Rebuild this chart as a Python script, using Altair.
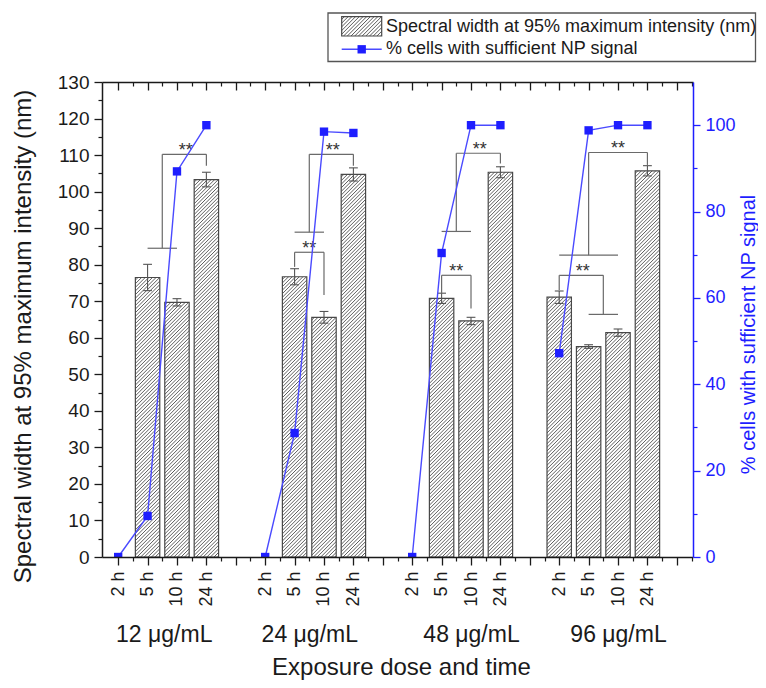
import altair as alt
import pandas as pd

# ---------------- data ----------------
doses = ["12 μg/mL", "24 μg/mL", "48 μg/mL", "96 μg/mL"]
times = ["2 h", "5 h", "10 h", "24 h"]

# spectral width at 95% max intensity (nm), None = no bar
width_12 = [None, 76.5, 69.7, 103.3]
width_24 = [None, 76.7, 65.6, 104.7]
width_48 = [None, 70.8, 64.6, 105.3]
width_96 = [71.1, 57.6, 61.4, 105.7]
err_12 = [None, 3.6, 1.0, 2.0]
err_24 = [None, 2.2, 1.6, 1.8]
err_48 = [None, 1.4, 1.0, 1.5]
err_96 = [1.7, 0.5, 1.0, 1.4]

# % cells with sufficient NP signal
pct_12 = [0, 9.5, 89.3, 100]
pct_24 = [0, 28.7, 98.5, 98.2]
pct_48 = [0, 70.4, 100, 100]
pct_96 = [47.2, 98.8, 100, 100]

# significance brackets (slot units, nm units)
br_x1 = [1, 1.5, 1.5, 3,   6, 6.5, 6.5, 8,   6, 6, 7,
         11, 11.5, 11.5, 13,   11, 11, 12,
         15, 16, 16, 18,   15, 15, 16.5, 16]
br_y1 = [84.5, 84.5, 110.2, 110.2,   88.9, 88.9, 110.2, 110.2,   79.4, 83.4, 83.4,
         89.1, 89.1, 110.5, 110.5,   72.2, 77.1, 77.1,
         82.6, 82.6, 110.7, 110.7,   73.0, 77.1, 77.1, 66.4]
br_x2 = [2, 1.5, 3, 3,   7, 6.5, 8, 8,   6, 7, 7,
         12, 11.5, 13, 13,   11, 12, 12,
         17, 16, 18, 18,   15, 16.5, 16.5, 17]
br_y2 = [84.5, 110.2, 110.2, 107.1,   88.9, 110.2, 110.2, 107.1,   83.4, 83.4, 71.7,
         89.1, 110.5, 110.5, 107.7,   77.1, 77.1, 68.0,
         82.6, 110.7, 110.7, 107.3,   77.1, 77.1, 66.4, 66.4]
star_x = [2.3, 7.3, 6.5, 12.3, 11.5, 17.0, 15.8]
star_y = [112.5, 112.5, 85.7, 112.7, 79.4, 112.9, 79.4]

legend_labels = ["Spectral width at 95% maximum intensity (nm)",
                 "% cells with sufficient NP signal"]
y_title = "Spectral width at 95% maximum intensity (nm)"
y2_title = "% cells with sufficient NP signal"
x_title = "Exposure dose and time"

# ---------------- layout / style ----------------
W, H = 591, 475
XDOM = [-0.55, 19.55]
YMAX, Y2MAX = 130, 110
FONT = "Liberation Sans"
BLACK = "#1a1a1a"
GRAY = "#555555"
BLUE = "#1e1eff"
LINE_BLUE = "#4a4aff"
BAR_HALF = 0.415
CAP = 0.15

XS = alt.Scale(domain=XDOM, nice=False, zero=False)
YS = alt.Scale(domain=[0, YMAX], nice=False)
Y2S = alt.Scale(domain=[0, Y2MAX], nice=False)

widths = [width_12, width_24, width_48, width_96]
errs = [err_12, err_24, err_48, err_96]
pcts = [pct_12, pct_24, pct_48, pct_96]

bar_rows, line_rows = [], []
for g, dose in enumerate(doses):
    for t, tm in enumerate(times):
        slot = g * 5 + t
        if widths[g][t] is not None:
            bar_rows.append({"slot": slot, "value": widths[g][t], "err": errs[g][t]})
        line_rows.append({"slot": slot, "pct": pcts[g][t], "dose": dose})
bars_df = pd.DataFrame(bar_rows)
bars_df["xl"] = bars_df["slot"] - BAR_HALF
bars_df["xr"] = bars_df["slot"] + BAR_HALF
bars_df["zero"] = 0.0
bars_df["lo"] = bars_df["value"] - bars_df["err"]
bars_df["hi"] = bars_df["value"] + bars_df["err"]
bars_df["cl"] = bars_df["slot"] - CAP
bars_df["cr"] = bars_df["slot"] + CAP
line_df = pd.DataFrame(line_rows)
br_df = pd.DataFrame({"x1": br_x1, "y1": br_y1, "x2": br_x2, "y2": br_y2})
star_df = pd.DataFrame({"x": star_x, "y": star_y, "t": ["**"] * len(star_x)})

PX_PER_SLOT = W / (XDOM[1] - XDOM[0])
PX_PER_NM = H / YMAX


def hatch(w, h, period=3.6, light_c="#ffffff", dark_c="#5c5c5c"):
    """Soft diagonal '/' stripes as an SVG bounding-box gradient."""
    n = max(1, int(round((w + h) / period)))
    k = (w + h) / (w * w + h * h)
    stops = []
    for i in range(n):
        stops += [{"offset": round(i / n, 6), "color": light_c},
                  {"offset": round((i + 0.45) / n, 6), "color": light_c},
                  {"offset": round((i + 0.72) / n, 6), "color": dark_c},
                  {"offset": round((i + 1) / n, 6), "color": light_c}]
    return {"gradient": "linear", "x1": 0, "y1": 0,
            "x2": round(k * w, 6), "y2": round(k * h, 6), "stops": stops}


# ---------------- bars (one layer per bar for its hatch) ----------------
bar_layers = []
bw = 2 * BAR_HALF * PX_PER_SLOT
for _, r in bars_df.iterrows():
    bh = r["value"] * PX_PER_NM
    bar_layers.append(
        alt.Chart(bars_df).transform_filter(alt.datum.slot == int(r["slot"]))
        .mark_rect(fill=hatch(bw, bh), stroke="#484848", strokeWidth=1.2)
        .encode(x=alt.X("xl:Q", scale=XS, axis=None), x2="xr:Q",
                y=alt.Y("value:Q", scale=YS, axis=None), y2="zero:Q")
    )

err_v = alt.Chart(bars_df).mark_rule(color=GRAY, strokeWidth=1.1).encode(
    x=alt.X("slot:Q", scale=XS, axis=None),
    y=alt.Y("lo:Q", scale=YS, axis=None), y2="hi:Q")
err_top = alt.Chart(bars_df).mark_rule(color=GRAY, strokeWidth=1.1).encode(
    x=alt.X("cl:Q", scale=XS, axis=None), x2="cr:Q",
    y=alt.Y("hi:Q", scale=YS, axis=None))
err_bot = alt.Chart(bars_df).mark_rule(color=GRAY, strokeWidth=1.1).encode(
    x=alt.X("cl:Q", scale=XS, axis=None), x2="cr:Q",
    y=alt.Y("lo:Q", scale=YS, axis=None))

brackets = alt.Chart(br_df).mark_rule(color="#6a6a6a", strokeWidth=1.2).encode(
    x=alt.X("x1:Q", scale=XS, axis=None), x2="x2:Q",
    y=alt.Y("y1:Q", scale=YS, axis=None), y2="y2:Q")

stars = alt.Chart(star_df).mark_text(font=FONT, fontSize=18, color="#333333",
                                     baseline="alphabetic", align="center", dy=10).encode(
    x=alt.X("x:Q", scale=XS, axis=None), y=alt.Y("y:Q", scale=YS, axis=None), text="t:N")

# ---------------- axis carriers (left scale) ----------------
carrier = pd.DataFrame({"x": [0.0], "y": [0.0]})


def xcar(axis):
    return alt.Chart(carrier).mark_point(opacity=0).encode(
        x=alt.X("x:Q", scale=XS, axis=axis), y=alt.Y("y:Q", scale=YS, axis=None))


def ycar(axis):
    return alt.Chart(carrier).mark_point(opacity=0).encode(
        x=alt.X("x:Q", scale=XS, axis=None), y=alt.Y("y:Q", scale=YS, axis=axis))


label_list = "[" + ",".join("'%s'" % t for t in times) + ",'']"
ax_bottom = alt.Axis(orient="bottom", values=list(range(20)), tickSize=8, tickWidth=1.3,
                     tickColor=BLACK, domain=True, domainColor=BLACK, domainWidth=1.5,
                     labelExpr=label_list + "[datum.value % 5]", labelAngle=270,
                     labelAlign="right", labelBaseline="middle", labelFontSize=18,
                     labelPadding=6, labelColor=BLACK, labelOverlap=False,
                     labelFlush=False, grid=False, title=None, zindex=1)
ax_bottom_minor = alt.Axis(orient="bottom", values=[i + 0.5 for i in range(20)],
                           tickSize=4, tickWidth=1.2, tickColor=BLACK, domain=False,
                           labels=False, grid=False, title=None, zindex=1)
dose_expr = ("datum.value < 4 ? '%s' : datum.value < 9 ? '%s' : datum.value < 14 ? '%s' : '%s'"
             % tuple(doses))
ax_dose = alt.Axis(orient="bottom", values=[1.55, 6.5, 12.0, 17.0], ticks=False, domain=False,
                   labelExpr=dose_expr, labelAngle=0, labelAlign="center",
                   labelBaseline="top", labelFontSize=23, labelPadding=66,
                   labelColor=BLACK, labelOverlap=False, labelFlush=False, grid=False,
                   title=x_title, titleFontSize=24, titleFontWeight="normal",
                   titleColor=BLACK, titleX=299, titleY=117, titleAlign="center",
                   titleBaseline="alphabetic", titleAngle=0, zindex=1)
ax_top = alt.Axis(orient="bottom", offset=-H, values=list(range(20)), tickSize=8,
                  tickWidth=1.3, tickColor=BLACK, domain=True, domainColor=BLACK,
                  domainWidth=1.5, labels=False, grid=False, title=None, zindex=1)
ax_top_minor = alt.Axis(orient="bottom", offset=-H, values=[i + 0.5 for i in range(20)],
                        tickSize=4, tickWidth=1.2, tickColor=BLACK, domain=False,
                        labels=False, grid=False, title=None, zindex=1)
ax_left = alt.Axis(orient="left", values=list(range(0, YMAX + 1, 10)), tickSize=8,
                   tickWidth=1.3, tickColor=BLACK, domain=True, domainColor=BLACK,
                   domainWidth=1.5, labelFontSize=19, labelPadding=5, labelColor=BLACK,
                   labelOverlap=False, labelFlush=False, grid=False,
                   title=y_title, titleFontSize=24, titleFontWeight="normal",
                   titleColor=BLACK, titleAngle=270, titleX=-72, titleY=254,
                   titleAlign="center", titleBaseline="alphabetic", zindex=1)
ax_left_minor = alt.Axis(orient="left", values=list(range(5, YMAX, 10)), tickSize=4,
                         tickWidth=1.2, tickColor=BLACK, domain=False, labels=False,
                         grid=False, title=None, zindex=1)

# ---------------- legend (pixel positions relative to plot) ----------------
one = pd.DataFrame({"a": [0]})
leg_box = alt.Chart(one).mark_rect(fill="white", fillOpacity=0, stroke="#555555",
                                   strokeWidth=1.3).encode(
    x=alt.value(226), x2=alt.value(653.5), y=alt.value(-69), y2=alt.value(-20.5))
leg_swatch = alt.Chart(one).mark_rect(fill=hatch(40, 19.3), stroke="#484848",
                                      strokeWidth=1.2).encode(
    x=alt.value(239.7), x2=alt.value(279.7), y=alt.value(-65.3), y2=alt.value(-46))
leg_line = alt.Chart(one).mark_rule(color=LINE_BLUE, strokeWidth=1.4).encode(
    x=alt.value(239.7), x2=alt.value(279.7), y=alt.value(-32.7))
leg_sq = alt.Chart(one).mark_point(shape="square", filled=True, size=70, color=BLUE,
                                   opacity=1).encode(x=alt.value(259.7), y=alt.value(-32.7))
leg_t1 = alt.Chart(one).mark_text(text=legend_labels[0], font=FONT, fontSize=18,
                                  color=BLACK, align="left", baseline="middle").encode(
    x=alt.value(284.0), y=alt.value(-55.3))
leg_t2 = alt.Chart(one).mark_text(text=legend_labels[1], font=FONT, fontSize=18,
                                  color=BLACK, align="left", baseline="middle").encode(
    x=alt.value(284.0), y=alt.value(-33))

left_group = alt.layer(
    *bar_layers, err_v, err_top, err_bot, brackets, stars,
    xcar(ax_bottom), xcar(ax_bottom_minor), xcar(ax_dose), xcar(ax_top), xcar(ax_top_minor),
    ycar(ax_left), ycar(ax_left_minor),
    leg_box, leg_swatch, leg_line, leg_sq, leg_t1, leg_t2,
).resolve_axis(x="independent", y="independent")

# ---------------- right scale group ----------------
ax_right = alt.Axis(orient="right", values=list(range(0, 101, 20)), tickSize=7,
                    tickWidth=1.3, tickColor=BLUE, domain=True, domainColor=BLUE,
                    domainWidth=1.5, labelFontSize=18, labelPadding=5, labelColor=BLUE,
                    labelOverlap=False, labelFlush=False, grid=False,
                    title=y2_title, titleFontSize=20, titleFontWeight="normal",
                    titleColor=BLUE, titleAngle=270, titleX=61, titleY=252,
                    titleAlign="center", titleBaseline="alphabetic", zindex=1)
ax_right_minor = alt.Axis(orient="right", values=list(range(10, 100, 20)), tickSize=4,
                          tickWidth=1.2, tickColor=BLUE, domain=False, labels=False,
                          grid=False, title=None, zindex=1)

pline = alt.Chart(line_df).mark_line(color=LINE_BLUE, strokeWidth=1.4).encode(
    x=alt.X("slot:Q", scale=XS, axis=None),
    y=alt.Y("pct:Q", scale=Y2S, axis=None), detail="dose:N")
ppts = alt.Chart(line_df).mark_point(shape="square", filled=True, size=70, color=BLUE,
                                     opacity=1, clip=True).encode(
    x=alt.X("slot:Q", scale=XS, axis=None), y=alt.Y("pct:Q", scale=Y2S, axis=None))
rcar = alt.Chart(carrier).mark_point(opacity=0).encode(
    x=alt.X("x:Q", scale=XS, axis=None), y=alt.Y("y:Q", scale=Y2S, axis=ax_right))
rcar2 = alt.Chart(carrier).mark_point(opacity=0).encode(
    x=alt.X("x:Q", scale=XS, axis=None), y=alt.Y("y:Q", scale=Y2S, axis=ax_right_minor))

right_group = alt.layer(pline, ppts, rcar, rcar2).resolve_axis(y="independent")

chart = alt.layer(left_group, right_group).resolve_scale(y="independent").resolve_axis(
    x="independent", y="independent"
).properties(
    width=W, height=H,
    autosize=alt.AutoSizeParams(type="none"),
    padding={"left": 94, "top": 74, "right": 65, "bottom": 123},
).configure(font=FONT).configure_view(stroke=None)

chart.save("out.html", embed_options={"renderer": "svg", "actions": False})
